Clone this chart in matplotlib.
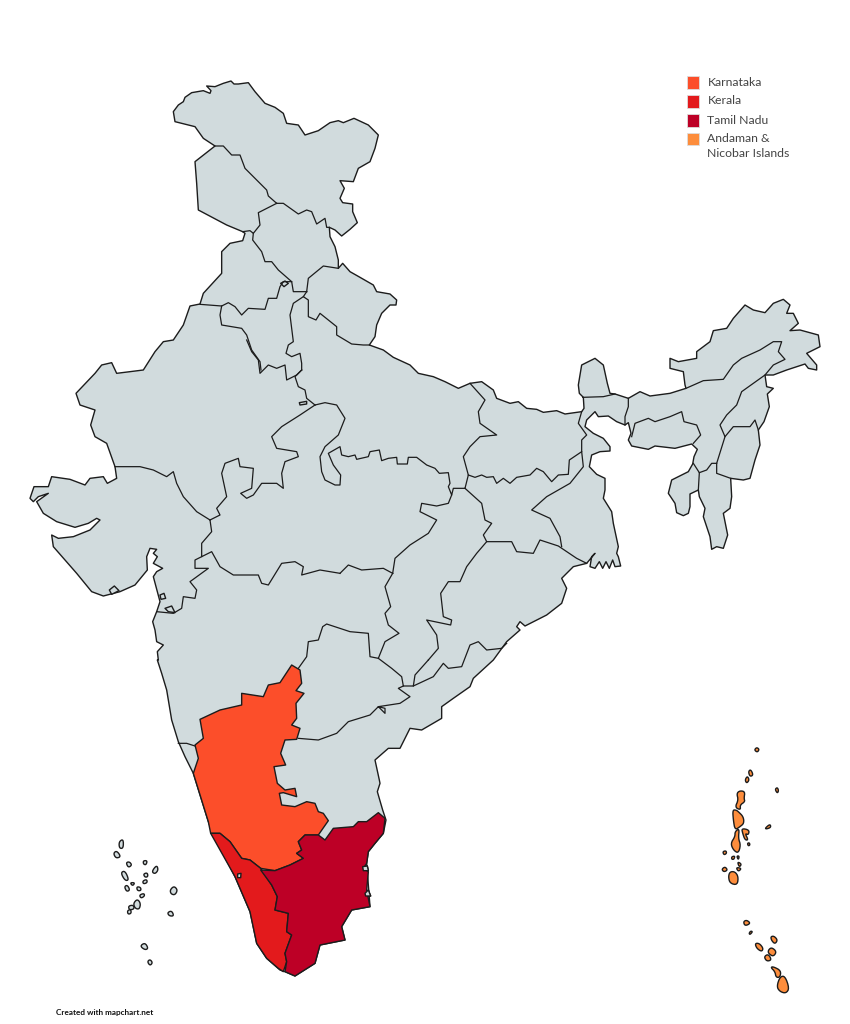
import matplotlib
matplotlib.use("Agg")
import matplotlib.pyplot as plt
from matplotlib.patches import Polygon, Rectangle


def crop(x0, y0, pts):
    return [(x0 + x / 3, y0 + y / 3) for x, y in pts]


def c5(pts):
    return crop(160, 70, pts)


def c6(pts):
    return crop(560, 290, pts)


def c7(pts):
    return crop(20, 340, pts)


def c8(pts):
    return crop(320, 340, pts)


def c9(pts):
    return crop(140, 560, pts)


def c2(pts):
    return crop(170, 650, pts)


def c3(pts):
    return crop(700, 730, pts)


def c4(pts):
    return crop(40, 820, pts)


def rounded(pts, passes=2):
    # corner cutting, the little islands are round blobs in the original
    for _ in range(passes):
        new = []
        for i, (x1, y1) in enumerate(pts):
            x2, y2 = pts[(i + 1) % len(pts)]
            new.append((0.75 * x1 + 0.25 * x2, 0.75 * y1 + 0.25 * y2))
            new.append((0.25 * x1 + 0.75 * x2, 0.25 * y1 + 0.75 * y2))
        pts = new
    return pts


# --- legend ---
legend_labels = ["Karnataka", "Kerala", "Tamil Nadu", "Andaman &\nNicobar Islands"]
legend_colors = ["#FC4E2A", "#E31A1C", "#BD0026", "#FD8D3C"]
land_color = "#D1DBDD"
credit = "Created with mapchart.net"

# --- coast and outer frontier, clockwise from the north west ---
outline = (
    c5([(40, 125), (55, 105), (70, 95), (75, 82), (95, 68), (130, 62), (150, 70), (153, 62), (140, 48), (165, 50),
        (190, 40), (213, 33), (222, 42), (235, 42), (265, 38), (285, 65), (315, 100), (345, 112), (370, 130),
        (380, 160), (415, 165), (435, 195), (475, 182), (510, 158), (535, 152), (550, 158), (582, 145), (625, 165),
        (655, 195), (645, 235), (630, 275), (595, 295), (580, 335), (540, 332), (553, 355), (540, 385), (548, 398),
        (578, 402), (578, 425), (592, 458), (570, 478), (545, 498), (525, 480), (508, 472), (510, 500), (525, 530),
        (535, 570), (535, 595), (548, 580), (570, 605), (600, 622), (640, 645), (650, 665), (690, 672), (710, 690),
        (708, 705), (690, 705), (665, 730), (650, 765), (645, 800), (628, 825), (670, 840), (700, 862), (750, 885)])
    + c8([(295, 100), (340, 110), (375, 125), (415, 145), (450, 130), (485, 125), (520, 150), (530, 175), (570, 190),
          (595, 185), (620, 205), (650, 208), (670, 217), (710, 212), (735, 222), (785, 215), (792, 205), (790, 172),
          (778, 160), (775, 135), (785, 75), (825, 55), (850, 75), (862, 130), (870, 160)])
    + c6([(165, 312), (205, 325), (240, 305), (270, 318), (330, 310), (378, 295), (375, 285), (370, 245), (330, 235),
          (330, 205), (355, 215), (410, 205), (410, 185), (450, 155), (460, 122), (500, 115), (520, 85), (555, 45),
          (580, 60), (615, 68), (640, 40), (670, 28), (690, 45), (680, 70), (700, 70), (715, 100), (690, 122),
          (720, 120), (775, 135), (780, 170), (740, 190), (770, 225), (770, 240), (745, 235), (735, 222), (680, 240),
          (640, 255), (615, 255), (620, 290), (640, 295), (622, 312), (628, 350), (612, 395), (595, 420), (600, 465),
          (585, 510), (570, 565), (550, 570), (512, 565), (515, 620), (510, 655), (490, 670), (503, 735), (490, 775),
          (470, 770), (455, 778), (450, 740), (430, 680), (435, 655), (418, 620), (415, 600), (390, 612), (390, 650),
          (385, 670), (370, 677), (350, 668), (345, 640), (325, 610), (335, 570), (385, 545), (398, 522), (402, 500),
          (412, 478), (395, 462), (345, 475), (285, 468), (265, 478), (215, 468), (205, 450), (213, 430), (205, 398),
          (195, 405), (170, 395), (145, 378), (115, 380), (105, 365), (80, 390), (75, 410), (100, 430), (130, 445),
          (150, 470), (150, 483), (120, 485), (95, 495), (88, 530), (110, 553), (135, 565), (135, 600), (130, 625),
          (155, 665), (160, 700), (175, 770)])
    + c8([(890, 640), (895, 650), (902, 678), (885, 680), (878, 660), (868, 685), (858, 665), (848, 685), (838, 665),
          (825, 685), (810, 680), (815, 650), (825, 640), (800, 670), (760, 680), (725, 715), (740, 745), (725, 790),
          (680, 825), (615, 858), (600, 845), (590, 860), (600, 870), (560, 905)])
    + c9([(1060, 300), (1000, 355), (990, 380), (940, 415), (905, 440), (905, 475), (845, 510), (810, 505), (780, 565),
          (745, 565), (705, 600), (718, 660)])
    + c2([(630, 400), (622, 425), (638, 480), (648, 510), (640, 550), (615, 580), (595, 605), (590, 640), (600, 770),
          (545, 780), (515, 830), (525, 870), (450, 885), (435, 940), (375, 978), (345, 965), (330, 960), (290, 925),
          (260, 880), (240, 785), (195, 680), (130, 555), (115, 515), (70, 370)])
    + c9([(135, 590), (115, 545), (95, 480), (80, 390), (65, 340), (52, 300)])
    + c7([(415, 960), (412, 935), (430, 915), (410, 905), (405, 870), (398, 845), (410, 815), (420, 785), (400, 710),
          (410, 695), (428, 685), (400, 670), (412, 650), (400, 640), (410, 628), (390, 625), (380, 650), (382, 690),
          (345, 735), (300, 755), (250, 768), (215, 755), (170, 700), (100, 620), (95, 585), (115, 595), (160, 590),
          (210, 570), (240, 540), (230, 535), (205, 550), (165, 562), (110, 545), (70, 520), (50, 485), (85, 460),
          (55, 470), (40, 485), (30, 475), (42, 440), (85, 440), (95, 410), (150, 418), (195, 435), (210, 415),
          (250, 410), (262, 430), (290, 415), (285, 380), (260, 310), (225, 290), (212, 255), (225, 210), (180, 195),
          (168, 160), (225, 100), (245, 75), (275, 68), (290, 100), (370, 90), (405, 35), (430, 5)])
    + c5([(40, 810), (70, 765), (90, 708), (120, 702), (130, 670), (185, 610), (185, 545), (210, 520), (248, 512),
          (255, 490), (248, 485), (200, 465), (115, 420), (110, 340), (105, 275), (165, 228), (130, 205), (105, 170),
          (45, 155)])
)

# --- inner state borders ---
borders_north = [
    c5([(165, 228), (190, 228), (215, 255), (240, 255), (255, 295), (285, 325), (320, 360), (325, 378), (350, 400)]),
    c5([(350, 400), (370, 400), (415, 432), (440, 420), (455, 425), (470, 462), (495, 445), (500, 472), (508, 472)]),
    c5([(350, 400), (295, 428), (300, 465), (280, 490), (270, 482), (248, 485)]),
    c5([(280, 490), (278, 510), (305, 545), (315, 575), (335, 575), (355, 600), (395, 635), (400, 665), (440, 665)]),
    c5([(440, 665), (445, 625), (490, 588), (535, 595)]),
    c5([(440, 665), (430, 680), (445, 690), (445, 740), (468, 750), (480, 730), (530, 770), (530, 795), (575, 822),
        (610, 825), (628, 825)]),
    c5([(395, 635), (370, 635), (360, 650), (350, 685), (325, 685), (315, 718), (265, 715), (245, 735), (225, 710),
        (205, 698), (185, 708), (120, 703)]),
    c5([(185, 708), (180, 735), (185, 765), (245, 775), (260, 795), (275, 840), (300, 875), (303, 900)]),
    c7([(680, 0), (695, 35), (715, 60), (720, 100), (745, 75), (770, 85), (795, 75), (800, 120), (830, 105),
        (845, 90)]),
    c5([(430, 680), (400, 700), (390, 735), (400, 815), (385, 825), (378, 850), (395, 860), (420, 850), (425, 880),
        (425, 900)]),
    c7([(845, 90), (825, 110), (835, 140), (855, 150), (860, 175), (885, 195)]),
]
borders_middle = [
    c7([(885, 195), (840, 225), (785, 260), (755, 290), (770, 325), (830, 335), (835, 350), (795, 365), (785, 400),
        (790, 445), (770, 430), (725, 430), (700, 465), (680, 475), (662, 460), (695, 445), (700, 385), (660, 380),
        (655, 355), (615, 370), (605, 400), (620, 470), (590, 505), (600, 525), (570, 540)]),
    c7([(885, 195), (915, 188)]) + c8([(50, 195), (75, 235), (55, 285), (15, 320), (0, 350), (5, 395), (15, 420),
                                       (45, 435), (60, 435), (62, 405), (40, 375), (25, 340), (60, 320), (65, 345),
                                       (85, 350), (105, 345), (110, 358), (145, 350), (150, 335), (178, 330),
                                       (185, 362), (205, 355), (230, 352), (232, 372), (262, 372), (265, 352),
                                       (290, 352), (320, 375), (345, 385), (358, 400), (385, 398), (390, 430),
                                       (385, 440), (395, 465), (400, 445), (435, 445)]),
    c8([(395, 465), (385, 490), (350, 498), (305, 490), (300, 515), (350, 540), (325, 580), (270, 615), (225, 655),
        (218, 700)]),
    c8([(450, 130), (495, 180), (475, 215), (480, 250), (530, 285), (480, 290), (450, 320), (430, 350), (445, 405),
        (435, 445)]),
    c8([(445, 405), (465, 412), (485, 405), (500, 412), (520, 410), (530, 430), (550, 415), (570, 430), (590, 412),
        (630, 405), (650, 385), (670, 395), (695, 425), (715, 405), (745, 403), (748, 360), (785, 335)]),
    c8([(785, 215), (775, 250), (800, 285), (785, 300), (785, 335), (790, 380), (750, 430), (680, 470), (635, 510),
        (690, 535), (720, 590), (725, 620)]),
    c8([(435, 445), (485, 490), (495, 540), (515, 550), (490, 585), (500, 605), (575, 605), (590, 635), (640, 640),
        (660, 600), (715, 618), (770, 655), (800, 670)]),
    c8([(500, 605), (470, 640), (440, 680), (420, 725), (385, 725), (362, 760), (370, 830), (395, 840), (392, 855),
        (320, 840), (350, 885), (355, 925), (325, 960)]),
    c9([(865, 300), (825, 345), (820, 378), (790, 378), (785, 350), (755, 325), (715, 295), (735, 245), (777, 220),
        (745, 195), (735, 160), (752, 140), (735, 80), (758, 40)]),
    c9([(820, 378), (880, 350), (910, 310), (925, 325), (965, 320), (990, 255), (1015, 245), (1040, 270), (1085, 265),
        (1100, 250)]),
    c7([(570, 540), (575, 575), (545, 610), (545, 650), (575, 635), (600, 680), (640, 705), (715, 705), (725, 730),
        (745, 735), (785, 670), (825, 665), (850, 680), (845, 705), (900, 690), (960, 700)]),
    c8([(60, 700), (85, 675), (125, 690), (190, 685), (218, 700)]),
    c7([(545, 650), (525, 660), (525, 685), (565, 685), (510, 725), (530, 750), (525, 775), (490, 770), (485, 805),
        (460, 820), (410, 815)]),
    c7([(285, 380), (360, 380), (400, 390), (440, 410), (460, 395), (470, 430), (490, 470), (530, 515), (570, 540)]),
    c9([(715, 295), (690, 290), (685, 220), (630, 215), (560, 192), (548, 200), (535, 240), (505, 245), (500, 290),
        (475, 325)]),
    c9([(475, 535), (535, 540), (590, 520), (625, 485), (690, 465), (715, 440), (735, 460), (735, 445), (715, 440),
        (780, 430), (810, 410), (775, 385), (790, 378)]),
    c2([(25, 280), (50, 280), (75, 288)]),
]
borders_east = [
    c6([(68, 322), (130, 320), (165, 312)]),
    c6([(205, 325), (205, 350), (195, 380), (195, 405)]),
    c6([(378, 295), (430, 272), (490, 268), (520, 225), (545, 205), (600, 180), (640, 155), (665, 155), (655, 185),
        (675, 208), (640, 225), (615, 255), (545, 305), (530, 345), (500, 375), (480, 405), (495, 440), (520, 410),
        (570, 410), (585, 390), (595, 420)]),
    c6([(495, 440), (470, 520), (470, 550), (512, 565)]),
    c6([(470, 520), (455, 520), (440, 540), (418, 548), (400, 520)]),
    c6([(418, 548), (415, 600)]),
    c6([(215, 440), (225, 400), (265, 385), (285, 395), (330, 380), (365, 365), (372, 395), (410, 405), (422, 435),
        (400, 460)]),
]

# small union territories sitting on the land
small_land = [
    c5([(362, 640), (375, 633), (385, 640), (372, 650)]),
    c7([(838, 188), (860, 184), (860, 192), (840, 195)]),
    c7([(420, 765), (432, 760), (437, 775), (423, 778)]),
    c7([(435, 805), (455, 798), (465, 818), (445, 815)]),
    c7([(268, 750), (283, 738), (297, 752), (275, 763)]),
    c2([(203, 672), (213, 670), (212, 683), (203, 683)]),
    c2([(578, 650), (592, 648), (595, 662), (580, 662)]),
    c2([(585, 730), (595, 720), (602, 738), (587, 738)]),
]

# --- coloured states ---
karnataka = c2([(365, 45), (390, 60), (395, 100), (378, 122), (402, 130), (378, 160), (380, 205), (365, 225), (390, 235),
                (380, 268), (345, 270), (332, 310), (347, 345), (312, 350), (322, 400), (345, 420), (375, 415),
                (380, 440), (340, 428), (328, 430), (335, 465), (375, 470), (410, 455), (435, 460), (445, 485),
                (460, 490), (475, 512), (445, 555), (405, 555), (385, 575), (395, 600), (380, 610), (400, 625),
                (360, 645), (315, 662), (272, 655), (240, 630), (215, 625), (180, 575), (150, 550), (122, 550),
                (115, 515), (70, 370), (85, 325), (75, 285), (100, 265), (90, 208), (150, 180), (215, 165), (215, 130),
                (280, 140), (295, 105), (330, 98)])
kerala = c2([(122, 550), (150, 550), (180, 575), (215, 625), (240, 630), (272, 655), (305, 705), (322, 740), (315, 780),
             (355, 790), (350, 845), (365, 855), (345, 910), (350, 935), (340, 965), (325, 955), (290, 925), (260, 880),
             (240, 785), (195, 680)])
tamil_nadu = c2([(272, 660), (315, 662), (360, 645), (400, 625), (380, 610), (395, 600), (385, 575), (405, 555),
                 (445, 555), (465, 570), (490, 535), (550, 530), (565, 515), (590, 515), (625, 488), (645, 505),
                 (640, 550), (615, 580), (595, 605), (590, 640), (580, 655), (595, 665), (590, 720), (600, 770),
                 (545, 780), (515, 830), (525, 870), (450, 885), (435, 940), (375, 978), (345, 965), (350, 935),
                 (345, 910), (365, 855), (350, 845), (355, 790), (315, 780), (322, 740), (305, 705)])

# --- islands ---
andaman = [c3(p) for p in [
    [(163, 60), (170, 52), (178, 58), (172, 67)],
    [(145, 125), (152, 118), (160, 135), (150, 140)],
    [(135, 150), (142, 138), (148, 150), (140, 160)],
    [(225, 178), (232, 172), (236, 182), (232, 190)],
    [(110, 190), (120, 182), (135, 185), (132, 205), (135, 215), (120, 225), (122, 240), (105, 232), (115, 210)],
    [(98, 240), (108, 240), (115, 245), (130, 260), (132, 280), (120, 290), (105, 300), (100, 270)],
    [(105, 305), (118, 295), (115, 325), (122, 345), (115, 370), (100, 360), (92, 340), (105, 320)],
    [(125, 295), (148, 300), (145, 315), (135, 310), (145, 330), (135, 330), (128, 310)],
    [(142, 340), (148, 338), (150, 345), (145, 348)],
    [(195, 295), (210, 282), (213, 292), (200, 297)],
    [(68, 365), (78, 362), (80, 370), (72, 375)],
    [(95, 380), (105, 378), (102, 388), (95, 388)],
    [(110, 378), (118, 378), (115, 390)],
    [(112, 395), (125, 402), (118, 412)],
    [(108, 412), (125, 415), (115, 425)],
    [(65, 418), (75, 410), (83, 420), (72, 426)],
    [(90, 425), (105, 425), (115, 440), (112, 465), (90, 460), (85, 440)],
    [(130, 575), (140, 570), (152, 580), (135, 588)],
    [(147, 610), (152, 603), (158, 605), (150, 614)],
    [(212, 620), (222, 618), (233, 630), (225, 642), (215, 632)],
    [(165, 640), (178, 640), (190, 655), (185, 665), (170, 655)],
    [(205, 660), (215, 652), (230, 665), (220, 680), (205, 670)],
    [(192, 680), (205, 672), (215, 690), (200, 694)],
    [(212, 712), (220, 710), (243, 722), (240, 742), (228, 742), (225, 725)],
    [(230, 770), (240, 740), (255, 738), (268, 775), (258, 790), (240, 785)],
]]
lakshadweep = [c4(p) for p in [
    [(237, 65), (250, 57), (250, 85), (238, 85)],
    [(220, 100), (230, 92), (243, 110), (228, 115)],
    [(258, 128), (268, 125), (276, 135), (265, 143)],
    [(310, 122), (322, 122), (318, 135), (310, 132)],
    [(335, 155), (350, 135), (355, 150), (345, 162)],
    [(242, 158), (255, 152), (267, 180), (255, 182)],
    [(310, 162), (322, 158), (324, 170), (315, 172)],
    [(308, 183), (320, 178), (322, 188), (310, 192)],
    [(270, 188), (285, 188), (278, 198)],
    [(253, 200), (262, 195), (270, 210), (260, 215)],
    [(290, 200), (302, 202), (303, 212), (292, 212)],
    [(298, 225), (312, 220), (314, 228), (303, 235)],
    [(390, 210), (402, 198), (413, 210), (405, 225), (393, 222)],
    [(280, 250), (292, 237), (302, 250), (298, 268), (285, 265)],
    [(265, 258), (280, 255), (283, 267), (268, 270)],
    [(262, 272), (272, 268), (274, 280), (264, 283)],
    [(382, 278), (395, 272), (402, 288), (388, 288)],
    [(300, 378), (315, 368), (325, 385), (315, 390)],
    [(322, 425), (330, 418), (338, 428), (330, 437)],
]]

EDGE = "#1c1c1c"
LW = 1.0

fig = plt.figure(figsize=(8.5, 10.24), dpi=100)
ax = fig.add_axes([0, 0, 1, 1])
ax.set_xlim(0, 850)
ax.set_ylim(1024, 0)
ax.axis("off")


def draw_shape(pts, color):
    ax.add_patch(Polygon(pts, closed=True, facecolor=color, edgecolor=EDGE, linewidth=LW, joinstyle="round"))


# land first, then borders, then the highlighted states on top
draw_shape(outline, land_color)
for line in borders_north + borders_middle + borders_east:
    xs, ys = zip(*line)
    ax.plot(xs, ys, color=EDGE, lw=LW * 0.9, solid_joinstyle="round")
for blob in small_land:
    draw_shape(blob, land_color)

draw_shape(karnataka, legend_colors[0])
draw_shape(kerala, legend_colors[1])
draw_shape(tamil_nadu, legend_colors[2])
for blob in small_land[5:8]:
    draw_shape(blob, land_color)

for isl in andaman:
    draw_shape(rounded(isl), legend_colors[3])
for isl in lakshadweep:
    draw_shape(rounded(isl), land_color)

# legend
legend_top = [76, 95, 114, 132.5]
for top, label, color in zip(legend_top, legend_labels, legend_colors):
    ax.add_patch(Rectangle((687, top), 12.5, 12.5, facecolor=color, edgecolor="#dddddd", linewidth=0.6))
    ax.text(707.5, top + 0.5, label, fontsize=8.8, family="Lato", color="#444444", va="top", ha="left",
            linespacing=1.4)

ax.text(56.5, 1012, credit, fontsize=5.9, family="Lato", fontweight="bold", color="#111111", va="center", ha="left")

fig.savefig("out.png", dpi=100, facecolor="white")
